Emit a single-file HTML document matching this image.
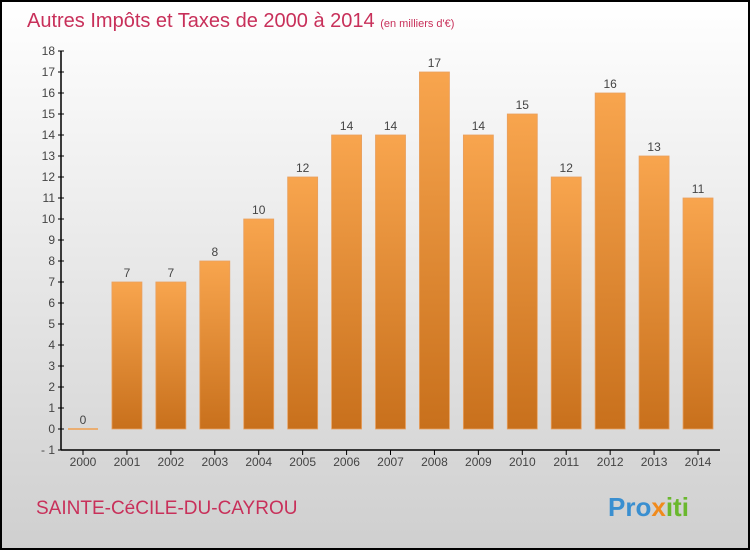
<!DOCTYPE html>
<html><head><meta charset="utf-8"><style>
body{margin:0;width:750px;height:550px;overflow:hidden;font-family:"Liberation Sans",sans-serif}
</style></head><body>
<svg width="750" height="550" xmlns="http://www.w3.org/2000/svg">
<defs>
<linearGradient id="bg" x1="0" y1="0" x2="0" y2="1"><stop offset="0" stop-color="#ffffff"/><stop offset="1" stop-color="#cfcfcf"/></linearGradient>
<linearGradient id="bar" x1="0" y1="0" x2="0" y2="1"><stop offset="0" stop-color="#f8a54e"/><stop offset="1" stop-color="#c8701c"/></linearGradient>
</defs>
<rect x="1" y="1" width="748" height="548" fill="url(#bg)" stroke="#000" stroke-width="2"/>
<text x="27" y="27" font-size="20" fill="#c8305a">Autres Impôts et Taxes de 2000 à 2014 <tspan font-size="11">(en milliers d'€)</tspan></text>
<g id="axes"></g>
<g id="bars"></g>
<text x="36" y="514" font-size="19" fill="#c8305a">SAINTE-CéCILE-DU-CAYROU</text>
<text x="608" y="516" font-size="26" font-weight="bold" fill="#3a8fd0">Pro<tspan fill="#f08a1c">x</tspan><tspan fill="#6ab82e">iti</tspan></text>
</svg>
<script>
const categories=["2000","2001","2002","2003","2004","2005","2006","2007","2008","2009","2010","2011","2012","2013","2014"];
const values=[0,7,7,8,10,12,14,14,17,14,15,12,16,13,11];
const yTicks=[-1,0,1,2,3,4,5,6,7,8,9,10,11,12,13,14,15,16,17,18];
const NS="http://www.w3.org/2000/svg";
const y=v=>429-v*21;
const x=i=>83+i*43.93;
function mk(t,a,p){const e=document.createElementNS(NS,t);for(const k in a)e.setAttribute(k,a[k]);p.appendChild(e);return e;}
const ax=document.getElementById('axes'),bg=document.getElementById('bars');
let l=mk('line',{x1:61,y1:y(18),x2:61,y2:y(-1),stroke:'#000','stroke-width':1.5},ax);


l=mk('line',{x1:61,y1:y(-1),x2:720,y2:y(-1),stroke:'#000','stroke-width':1.5},ax);


yTicks.forEach(v=>{
 mk('line',{x1:58,y1:y(v),x2:64,y2:y(v),stroke:'#000'},ax);
 const t=mk('text',{x:55,y:y(v)+4,'font-size':12,fill:'#444','text-anchor':'end'},ax);t.textContent=v===-1?'- 1':v;
 
 
});
categories.forEach((c,i)=>{
 mk('line',{x1:x(i),y1:y(-1),x2:x(i),y2:y(-1)+5,stroke:'#000'},ax);
 const t=mk('text',{x:x(i),y:466,'font-size':12,fill:'#444','text-anchor':'middle'},ax);t.textContent=c;
 
 
 const v=values[i];
 let b;
 if(v===0){b=mk('line',{x1:x(i)-15,y1:y(0),x2:x(i)+15,y2:y(0),stroke:'#f0a050','stroke-width':1.5},bg);}
 else b=mk('rect',{x:x(i)-15,y:y(v),width:30,height:y(0)-y(v),fill:'url(#bar)',stroke:'#e8a060','stroke-width':0.8},bg);
 
 
 const lb=mk('text',{x:x(i),y:y(v)-5,'font-size':12,fill:'#444','text-anchor':'middle'},bg);lb.textContent=v;
 
 
});
</script>
</body></html>
